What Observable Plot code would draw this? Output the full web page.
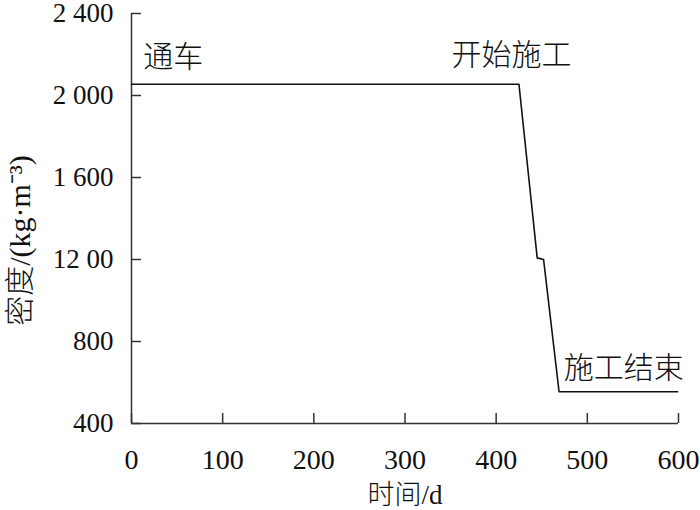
<!DOCTYPE html>
<html><head><meta charset="utf-8">
<script src="https://cdn.jsdelivr.net/npm/d3@7"></script>
<script src="https://cdn.jsdelivr.net/npm/@observablehq/plot@0.6"></script>
<style>
body{margin:0;background:#fff}
svg text{font-family:"Liberation Serif","Noto Sans CJK SC",serif}
</style>
</head><body><div id="chart"></div>
<script>
const days = [0, 425, 445, 452, 469, 599];
const density = [2055, 2055, 1208, 1200, 555, 555];
const xTicks = [0, 100, 200, 300, 400, 500, 600];
const yTicks = [400, 800, 1200, 1600, 2000, 2400];
const yTickLabels = ["400", "800", "12 00", "1 600", "2 000", "2 400"];
const annoText = ["通车", "开始施工", "施工结束"];
const annoX = [13, 351, 474];
const annoY = [2185, 2195, 668];

const data = days.map((d, i) => ({d, v: density[i]}));
const annos = annoText.map((t, i) => ({t, x: annoX[i], y: annoY[i]}));

const chart = Plot.plot({
  width: 700, height: 510,
  marginLeft: 131, marginRight: 22, marginTop: 13, marginBottom: 87,
  style: {fontSize: "28px", color: "#111", background: "#fff"},
  x: {domain: [0, 600]},
  y: {domain: [400, 2400]},
  marks: [
    Plot.axisX({ticks: xTicks, tickSize: -10, tickPadding: 36, label: null, fontSize: 28, stroke: "#333", strokeWidth: 1.5}),
    Plot.axisY({ticks: yTicks, tickSize: -10, tickPadding: 28, fontSize: 27, label: null,
      tickFormat: v => yTickLabels[yTicks.indexOf(v)], stroke: "#333", strokeWidth: 1.5}),
    Plot.ruleX([0], {stroke: "#333", strokeWidth: 1.5}),
    Plot.ruleY([400], {stroke: "#333", strokeWidth: 1.5}),
    Plot.line(data, {x: "d", y: "v", stroke: "#111", strokeWidth: 1.6}),
    Plot.text(annos, {x: "x", y: "y", text: "t", textAnchor: "start", fontSize: 30,
      fontWeight: 300, fill: "#111"}),
    Plot.text(["时间/d"], {frameAnchor: "bottom", textAnchor: "middle", lineAnchor: "middle", dy: 72, fontSize: 27, fontWeight: 300, fill: "#111"}),
    Plot.text(["密度/(kg·m⁻³)"], {frameAnchor: "left", textAnchor: "middle", lineAnchor: "middle", rotate: -90, dx: -111, dy: 22, fontSize: 30, fontWeight: 300, fill: "#111"})
  ]
});
document.getElementById("chart").appendChild(chart);
</script></body></html>
